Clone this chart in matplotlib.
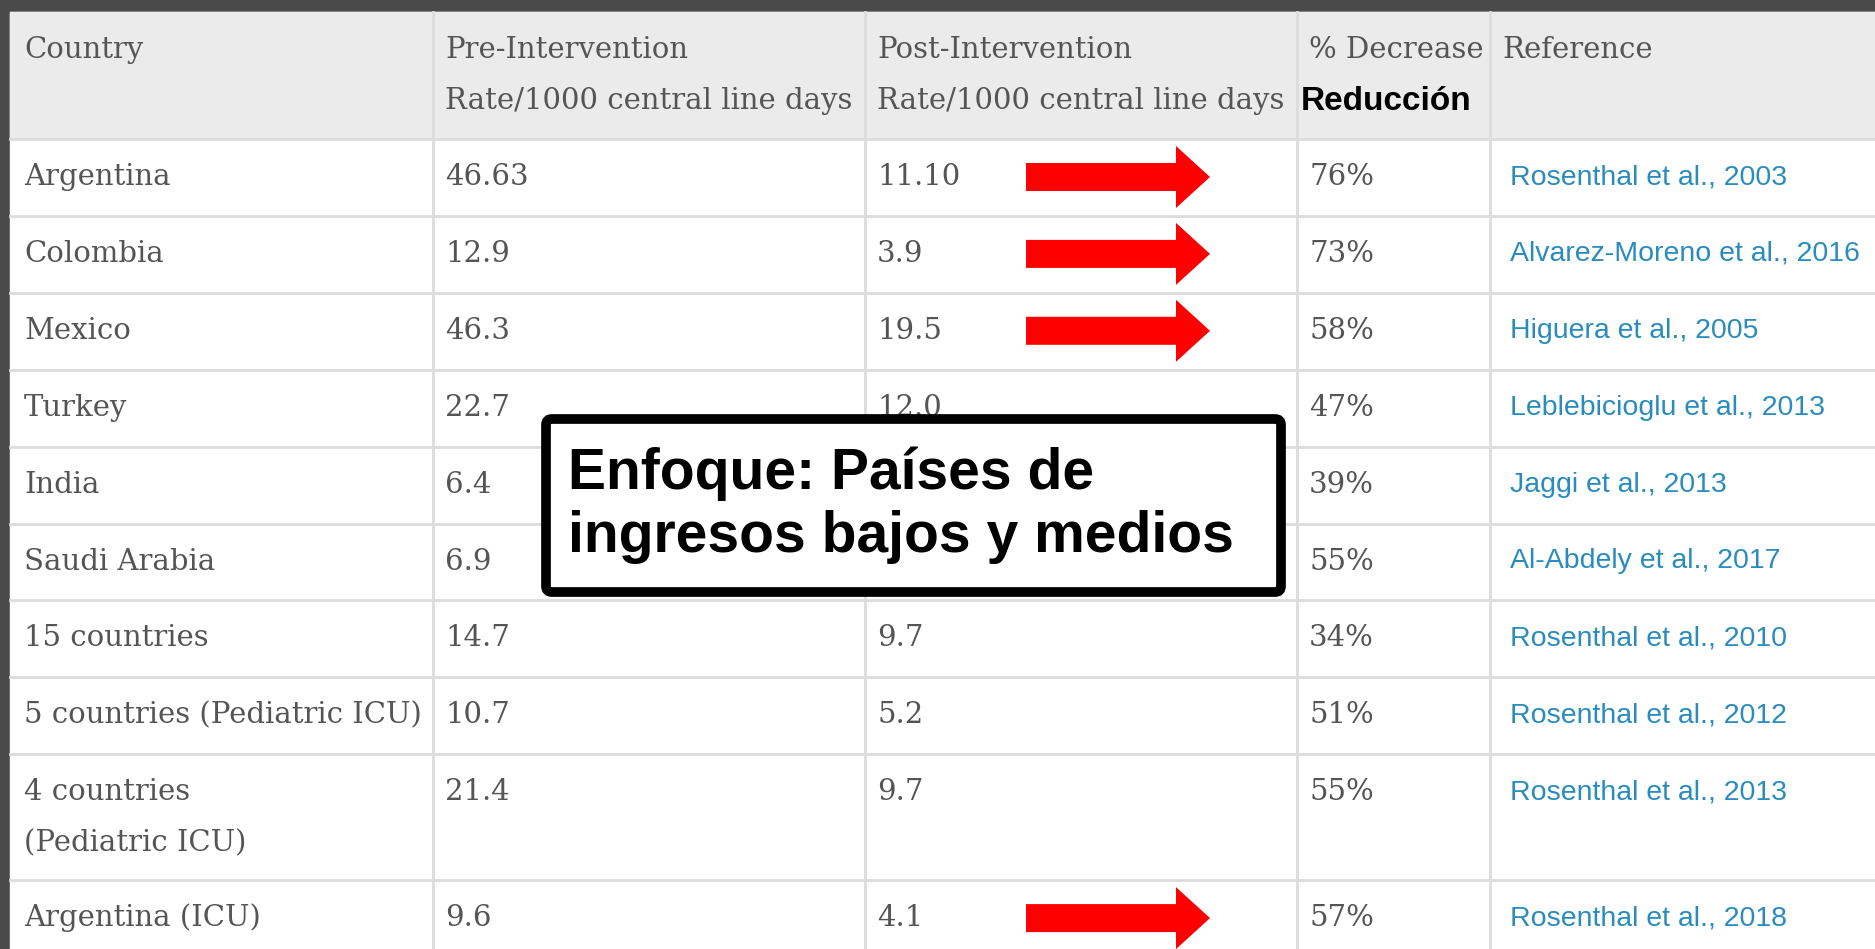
import matplotlib
matplotlib.use("Agg")
import matplotlib.pyplot as plt
from matplotlib.patches import Rectangle, FancyArrow, FancyBboxPatch

# ---------------- data ----------------
header_line1 = ["Country", "Pre-Intervention", "Post-Intervention", "% Decrease", "Reference"]
header_line2 = ["", "Rate/1000 central line days", "Rate/1000 central line days", "Reducción", ""]

countries = ["Argentina", "Colombia", "Mexico", "Turkey", "India", "Saudi Arabia",
             "15 countries", "5 countries (Pediatric ICU)", "4 countries\n(Pediatric ICU)",
             "Argentina (ICU)"]
pre_rate = ["46.63", "12.9", "46.3", "22.7", "6.4", "6.9", "14.7", "10.7", "21.4", "9.6"]
post_rate = ["11.10", "3.9", "19.5", "12.0", "3.9", "3.1", "9.7", "5.2", "9.7", "4.1"]
decrease = ["76%", "73%", "58%", "47%", "39%", "55%", "34%", "51%", "55%", "57%"]
references = ["Rosenthal et al., 2003", "Alvarez-Moreno et al., 2016", "Higuera et al., 2005",
              "Leblebicioglu et al., 2013", "Jaggi et al., 2013", "Al-Abdely et al., 2017",
              "Rosenthal et al., 2010", "Rosenthal et al., 2012", "Rosenthal et al., 2013",
              "Rosenthal et al., 2018"]
arrow_rows = [0, 1, 2, 9]
callout_text = "Enfoque: Países de\ningresos bajos y medios"

# ---------------- layout (pixel coords) ----------------
W, H = 1875, 949
fig = plt.figure(figsize=(W / 100, H / 100), dpi=100)
ax = fig.add_axes([0, 0, 1, 1])
ax.set_xlim(0, W)
ax.set_ylim(H, 0)
ax.axis("off")

frame_col = "#4a4a4a"
header_bg = "#ebebeb"
grid_col = "#dcdcdc"
text_col = "#555555"
link_col = "#2a8cbd"
serif = ["DejaVu Serif"]
sans = ["Liberation Sans", "DejaVu Sans"]

left, top = 10, 12
col_x = [left, 433, 865, 1297, 1490, W + 5]
header_h = 127
row_h = 76.9
line_gap = 51
fs = 21

# background
ax.add_patch(Rectangle((0, 0), W, H, color=frame_col, zorder=0))
ax.add_patch(Rectangle((left, top), W - left + 5, H, color="white", zorder=0.5))
ax.add_patch(Rectangle((left, top), W - left + 5, header_h, color=header_bg, zorder=0.6))

# row boundaries
row_tops = []
y = top + header_h
for name in countries:
    nlines = name.count("\n") + 1
    h = row_h if nlines == 1 else row_h + 49
    row_tops.append((y, h))
    y += h

# grid lines
ax.plot([left, W], [top + header_h] * 2, color=grid_col, lw=2, zorder=1)
for (yt, h) in row_tops:
    ax.plot([left, W], [yt + h] * 2, color=grid_col, lw=2, zorder=1)
for cx in col_x[1:-1]:
    ax.plot([cx, cx], [top, H], color=grid_col, lw=2, zorder=1)

pad = [14, 12, 12, 12, 12]

# header
for j in range(5):
    ax.text(col_x[j] + pad[j], top + 38, header_line1[j], fontsize=fs, family=serif,
            color=text_col, va="center", ha="left", zorder=2)
    if header_line2[j]:
        if j == 3:
            ax.text(col_x[j] + 4, top + 89, header_line2[j], fontsize=24, family=sans,
                    fontweight="bold", color="black", va="center", ha="left", zorder=2)
        else:
            ax.text(col_x[j] + pad[j], top + 89, header_line2[j], fontsize=fs, family=serif,
                    color=text_col, va="center", ha="left", zorder=2)

# body
for i, (yt, h) in enumerate(row_tops):
    yc = yt + 38
    lines = countries[i].split("\n")
    for k, ln in enumerate(lines):
        ax.text(col_x[0] + pad[0], yc + k * line_gap, ln, fontsize=fs, family=serif,
                color=text_col, va="center", ha="left", zorder=2)
    ax.text(col_x[1] + pad[1], yc, pre_rate[i], fontsize=fs, family=serif,
            color=text_col, va="center", ha="left", zorder=2)
    ax.text(col_x[2] + pad[2], yc, post_rate[i], fontsize=fs, family=serif,
            color=text_col, va="center", ha="left", zorder=2)
    ax.text(col_x[3] + pad[3], yc, decrease[i], fontsize=fs, family=serif,
            color=text_col, va="center", ha="left", zorder=2)
    ax.text(col_x[4] + 20, yc, references[i], fontsize=20.5, family=sans,
            color=link_col, va="center", ha="left", zorder=2)

# red arrows
for i in arrow_rows:
    yt, h = row_tops[i]
    yc = yt + 38
    ax.add_patch(FancyArrow(1026, yc, 184, 0, width=28, head_width=62, head_length=34,
                            length_includes_head=True, color="#ff0000", lw=0, zorder=3))

# callout box
bx0, by0, bx1, by1 = 546, 419, 1281, 592
ax.add_patch(FancyBboxPatch((bx0, by0), bx1 - bx0, by1 - by0,
                            boxstyle="round,pad=0,rounding_size=6",
                            facecolor="white", edgecolor="black", lw=7, zorder=4))
ax.text(568, 505, callout_text, fontsize=41, family=sans, fontweight="bold",
        color="black", va="center", ha="left", linespacing=1.22, zorder=5)

fig.savefig("out.png", dpi=100)
